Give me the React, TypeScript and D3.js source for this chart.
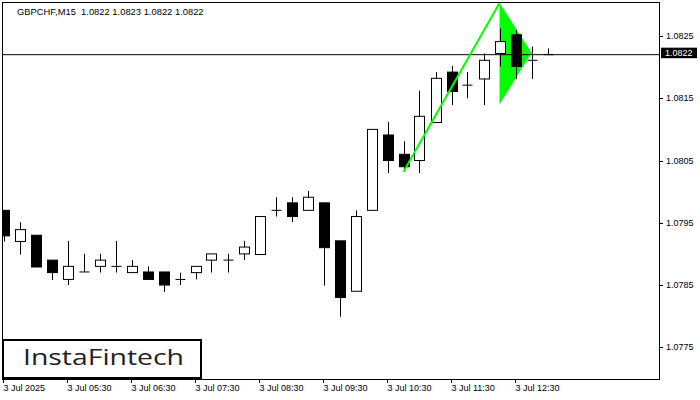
import { useEffect, useRef } from 'react';
import * as d3 from 'd3';

const symbol = 'GBPCHF,M15';
const lastQuote = [1.0822, 1.0823, 1.0822, 1.0822];
const bidPrice = 1.0822;

// 15-minute bars, 3 Jul 04:30 .. 13:00
const opens = [
  1.0797, 1.0792, 1.0793, 1.0789, 1.07859, 1.07871, 1.0788, 1.0788, 1.0787, 1.07871,
  1.07871, 1.07859, 1.0787, 1.0789, 1.0789, 1.079, 1.07899, 1.0797, 1.07982, 1.0797,
  1.07982, 1.07921, 1.0784, 1.0797, 1.08091, 1.0806, 1.0805, 1.08111, 1.08192, 1.08171,
  1.08181, 1.08222, 1.08252, 1.08211, 1.0822
];
const highs = [
  1.0797, 1.07951, 1.0793, 1.0789, 1.07921, 1.079, 1.079, 1.07921, 1.0789, 1.0788,
  1.07871, 1.0787, 1.0788, 1.079, 1.079, 1.07921, 1.0796, 1.07991, 1.07991, 1.08001,
  1.07982, 1.07921, 1.0797, 1.081, 1.08112, 1.08081, 1.08162, 1.08192, 1.08202, 1.08192,
  1.08222, 1.08262, 1.0826, 1.08233, 1.0823
];
const lows = [
  1.0792, 1.07899, 1.07879, 1.07858, 1.0785, 1.07871, 1.0787, 1.0787, 1.0787, 1.07859,
  1.07839, 1.0785, 1.07859, 1.0787, 1.0787, 1.0789, 1.07899, 1.0796, 1.07951, 1.0797,
  1.07849, 1.07799, 1.0784, 1.0797, 1.0803, 1.08032, 1.0803, 1.08111, 1.08139, 1.0815,
  1.08139, 1.08201, 1.08181, 1.08181, 1.0822
];
const closes = [
  1.07929, 1.07939, 1.07879, 1.0787, 1.0788, 1.07871, 1.0789, 1.0788, 1.0788, 1.07859,
  1.0785, 1.07859, 1.0788, 1.079, 1.0789, 1.07911, 1.0796, 1.0797, 1.0796, 1.07991,
  1.0791, 1.0783, 1.0796, 1.081, 1.0805, 1.0804, 1.08121, 1.08182, 1.08161, 1.08171,
  1.08211, 1.08241, 1.08201, 1.08211, 1.0822
];

const priceTicks = [1.0775, 1.0785, 1.0795, 1.0805, 1.0815, 1.0825];
const timeTickBars = [0, 4, 8, 12, 16, 20, 24, 28, 32];
const timeTickLabels = [
  '3 Jul 2025', '3 Jul 05:30', '3 Jul 06:30', '3 Jul 07:30', '3 Jul 08:30',
  '3 Jul 09:30', '3 Jul 10:30', '3 Jul 11:30', '3 Jul 12:30'
];

// bullish pennant: pole start, apex, lower corner, tip
const pennantBars = [25, 31, 31, 33];
const pennantPrices = [1.08032, 1.08303, 1.0814, 1.08223];

const W = 700;
const H = 400;
const plot = { left: 3, top: 3, right: 659, bottom: 379 };
const font = '"Liberation Sans", Arial, sans-serif';

export default function App() {
  const svgRef = useRef<SVGSVGElement | null>(null);

  useEffect(() => {
    const svg = svgRef.current;
    if (!svg) return;
    const root = d3.select(svg);
    root.selectAll('*').remove();

    const x = d3.scaleLinear().domain([0, 34]).range([3.5, 547.5]);
    const y = d3.scaleLinear().domain([1.0775, 1.0825]).range([347.3, 36]);
    const half = 5;

    root.append('rect').attr('width', W).attr('height', H).attr('fill', '#fff');

    root
      .append('defs')
      .append('clipPath')
      .attr('id', 'plotClip')
      .append('rect')
      .attr('x', plot.left)
      .attr('y', plot.top)
      .attr('width', plot.right - plot.left)
      .attr('height', plot.bottom - plot.top);

    const g = root.append('g').attr('clip-path', 'url(#plotClip)');

    // pennant body (background)
    const tri = [1, 2, 3].map((i) => [x(pennantBars[i]), y(pennantPrices[i])] as [number, number]);
    g.append('path')
      .attr('d', 'M' + tri.map((p) => p.join(',')).join('L') + 'Z')
      .attr('fill', '#00ff00');

    // bid line
    g.append('line')
      .attr('x1', plot.left)
      .attr('x2', plot.right)
      .attr('y1', y(bidPrice))
      .attr('y2', y(bidPrice))
      .attr('stroke', '#000')
      .attr('stroke-width', 1);

    // candles
    const idx = d3.range(opens.length);
    const c = g.selectAll('g.candle').data(idx).join('g').attr('class', 'candle');
    c.append('line')
      .attr('x1', (i) => Math.round(x(i)) + 0.5)
      .attr('x2', (i) => Math.round(x(i)) + 0.5)
      .attr('y1', (i) => y(highs[i]))
      .attr('y2', (i) => y(lows[i]))
      .attr('stroke', '#000')
      .attr('stroke-width', 1);
    c.each(function (i) {
      const sel = d3.select(this);
      const top = y(Math.max(opens[i], closes[i]));
      const bot = y(Math.min(opens[i], closes[i]));
      const cx = Math.round(x(i)) + 0.5;
      if (bot - top < 1.5) {
        sel
          .append('line')
          .attr('x1', cx - half)
          .attr('x2', cx + half)
          .attr('y1', top)
          .attr('y2', top)
          .attr('stroke', '#000');
      } else {
        sel
          .append('rect')
          .attr('x', cx - half)
          .attr('y', top)
          .attr('width', half * 2)
          .attr('height', bot - top)
          .attr('fill', closes[i] >= opens[i] ? '#fff' : '#000')
          .attr('stroke', '#000')
          .attr('stroke-width', 1);
      }
    });

    // flagpole line (foreground)
    g.append('line')
      .attr('x1', x(pennantBars[0]))
      .attr('y1', y(pennantPrices[0]))
      .attr('x2', x(pennantBars[1]))
      .attr('y2', y(pennantPrices[1]))
      .attr('stroke', '#00ff00')
      .attr('stroke-width', 2);

    // frame
    root
      .append('rect')
      .attr('x', plot.left - 0.5)
      .attr('y', plot.top - 0.5)
      .attr('width', plot.right - plot.left + 1)
      .attr('height', plot.bottom - plot.top + 1)
      .attr('fill', 'none')
      .attr('stroke', '#000');

    // price axis
    const yAxis = root.append('g').attr('font-family', font).attr('font-size', 9);
    priceTicks.forEach((p) => {
      yAxis
        .append('line')
        .attr('x1', plot.right)
        .attr('x2', plot.right + 4)
        .attr('y1', Math.round(y(p)) + 0.5)
        .attr('y2', Math.round(y(p)) + 0.5)
        .attr('stroke', '#000');
      yAxis
        .append('text')
        .attr('x', 666)
        .attr('y', y(p))
        .attr('dy', '0.35em')
        .attr('fill', '#000')
        .text(p.toFixed(4));
    });

    // bid label
    root
      .append('rect')
      .attr('x', 661)
      .attr('y', y(bidPrice) - 7)
      .attr('width', 36)
      .attr('height', 10.5)
      .attr('fill', '#000');
    root
      .append('text')
      .attr('x', 665)
      .attr('y', y(bidPrice) - 1.8)
      .attr('dy', '0.35em')
      .attr('font-family', font)
      .attr('font-size', 9)
      .attr('fill', '#fff')
      .text(bidPrice.toFixed(4));

    // time axis
    const xAxis = root.append('g').attr('font-family', font).attr('font-size', 9);
    timeTickBars.forEach((b, k) => {
      const tx = k === 0 ? plot.left + 0.5 : Math.round(x(b)) - 0.5;
      xAxis
        .append('line')
        .attr('x1', tx)
        .attr('x2', tx)
        .attr('y1', plot.bottom)
        .attr('y2', plot.bottom + 4)
        .attr('stroke', '#000');
      xAxis
        .append('text')
        .attr('x', tx)
        .attr('y', 391)
        .attr('fill', '#000')
        .text(timeTickLabels[k]);
    });

    // title
    root
      .append('text')
      .attr('x', 17)
      .attr('y', 15)
      .attr('font-family', font)
      .attr('font-size', 9.4)
      .attr('fill', '#000')
      .attr('xml:space', 'preserve')
      .text(`${symbol}  ${lastQuote.map((v) => v.toFixed(4)).join(' ')}`);

    // logo
    root
      .append('rect')
      .attr('x', 3)
      .attr('y', 340)
      .attr('width', 198)
      .attr('height', 38)
      .attr('fill', '#fff')
      .attr('stroke', '#000')
      .attr('stroke-width', 2);
    root
      .append('text')
      .attr('x', 23)
      .attr('y', 365)
      .attr('font-family', '"Open Sans", sans-serif')
      .attr('font-size', 22)
      .attr('font-weight', 500)
      .attr('fill', '#222')
      .attr('textLength', 161)
      .attr('lengthAdjust', 'spacingAndGlyphs')
      .text('InstaFintech');
  }, []);

  return (
    <svg
      ref={svgRef}
      width={W}
      height={H}
      style={{ position: 'absolute', left: 0, top: 0, display: 'block' }}
    />
  );
}
